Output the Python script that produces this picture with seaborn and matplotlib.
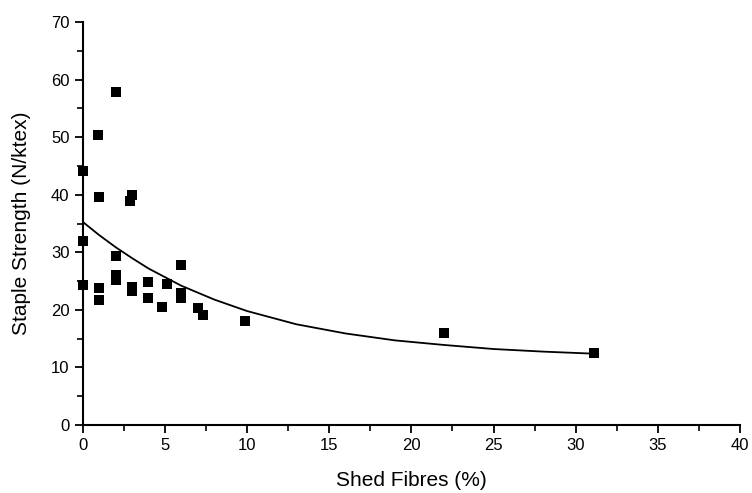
import pandas as pd
import seaborn as sns
import matplotlib.pyplot as plt
from matplotlib.ticker import MultipleLocator

shed = [0, 0, 0, 0.9, 1.0, 1.0, 1.0, 2.0, 2.0, 2.0, 2.0, 3.0, 2.9, 3.0, 3.0,
        4.0, 4.0, 4.8, 5.1, 6.0, 6.0, 6.0, 7.0, 7.3, 9.9, 22.0, 31.1]
strength = [44.1, 32.0, 24.3, 50.4, 39.6, 23.8, 21.7, 57.8, 29.4, 26.0, 25.2,
            40.0, 38.9, 24.0, 23.3, 24.8, 22.0, 20.5, 24.5, 27.8, 23.0, 22.0,
            20.3, 19.1, 18.0, 16.0, 12.5]

# fitted curve
curve_x = [0, 1, 2, 3, 4, 6, 8, 10, 13, 16, 19, 22, 25, 28, 31]
curve_y = [35.3, 33.0, 30.9, 29.0, 27.2, 24.2, 21.8, 19.8, 17.5, 15.9, 14.7,
           13.9, 13.2, 12.75, 12.4]

df = pd.DataFrame({'shed': shed, 'strength': strength})
fit = pd.DataFrame({'x': curve_x, 'y': curve_y})

sns.set_style('ticks')
plt.rcParams['font.family'] = ['Liberation Sans', 'DejaVu Sans']
plt.rcParams['text.color'] = 'black'
plt.rcParams['axes.labelcolor'] = 'black'

fig = plt.figure(figsize=(7.52, 4.93), dpi=100)
ax = fig.add_axes([0.110, 0.138, 0.874, 0.817])

sns.lineplot(data=fit, x='x', y='y', color='black', linewidth=1.3, ax=ax)
sns.scatterplot(data=df, x='shed', y='strength', marker='s', s=60,
                color='black', edgecolor='black', linewidth=0, ax=ax,
                clip_on=False, zorder=3)

ax.set_xlim(0, 40)
ax.set_ylim(0, 70)
ax.xaxis.set_major_locator(MultipleLocator(5))
ax.xaxis.set_minor_locator(MultipleLocator(2.5))
ax.yaxis.set_major_locator(MultipleLocator(10))
ax.yaxis.set_minor_locator(MultipleLocator(5))
ax.tick_params(which='major', length=6, width=1.3, labelsize=12, colors='black')
ax.tick_params(which='minor', length=4, width=1.2, colors='black')
for s in ['left', 'bottom']:
    ax.spines[s].set_linewidth(1.5)
    ax.spines[s].set_color('black')
sns.despine(ax=ax)

ax.set_xlabel('Shed Fibres (%)', fontsize=15, labelpad=13)
ax.set_ylabel('Staple Strength (N/ktex)', fontsize=15, labelpad=14)

fig.savefig('out.png', dpi=100)
